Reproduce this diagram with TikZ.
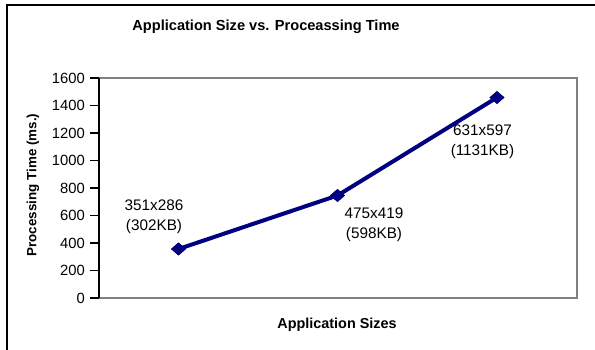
\documentclass[tikz,border=0pt]{standalone}
\usepackage{fontspec}
\setmainfont{Liberation Sans}
\usetikzlibrary{shapes.geometric}
\definecolor{series}{RGB}{0,0,128}
\definecolor{frame}{RGB}{128,128,128}
\tikzset{
  ticklab/.style={anchor=east,inner sep=0pt,font=\fontsize{14.8}{16}\selectfont},
  datalab/.style={align=center,inner sep=0pt,font=\fontsize{15.3}{20}\selectfont},
  boldlab/.style={inner sep=0pt,font=\bfseries\fontsize{14.4}{16}\selectfont},
  marker/.style={diamond,fill=series,inner sep=0pt,minimum width=15pt,minimum height=13pt},
  seriesline/.style={draw=series,line width=4pt},
}
\begin{document}
\begin{tikzpicture}[x=1pt,y=-1pt]
\useasboundingbox (0,0) rectangle (595,350);
\fill[white] (0,0) rectangle (595,350);
\draw[line width=2pt] (7,5) rectangle (610,365);
% plot area
\draw[frame,line width=1.7pt] (99,78) -- (577,78) -- (577,298) -- (99,298);
\draw[line width=1.7pt] (99,78) -- (99,298);
\foreach \v [count=\i from 0] in {0,200,400,600,800,1000,1200,1400,1600}{
  \coordinate (t\i) at (99,{298-\i*27.5});
  \draw[line width=1.5pt] (t\i) -- ++(-9,0);
  \node[ticklab] (tl\i) at ({85},{298-\i*27.5}) {\v};
}
% title and axis labels
\node[boldlab,font=\bfseries\fontsize{14.6}{16}\selectfont] (title) at (266,27) {Application Size vs. Proceassing Time};
\node[boldlab,rotate=90,font=\bfseries\fontsize{13.4}{16}\selectfont] (ylab) at (33,185) {Processing Time (ms.)};
\node[boldlab] (xlab) at (337,325) {Application Sizes};
% series
\node[marker] (p1) at (178.5,249) {};
\node[marker] (p2) at (337.5,195.5) {};
\node[marker] (p3) at (497,97.5) {};
\draw[seriesline] (p1.center) -- (p2.center) -- (p3.center);
\node[marker] at (p1) {};
\node[marker] at (p2) {};
\node[marker] at (p3) {};
% data labels
\node[datalab] (l1) at (154,216.5) {351x286\\(302KB)};
\node[datalab] (l2) at (374,225) {475x419\\(598KB)};
\node[datalab] (l3) at (482.5,142) {631x597\\(1131KB)};
\end{tikzpicture}
\end{document}
